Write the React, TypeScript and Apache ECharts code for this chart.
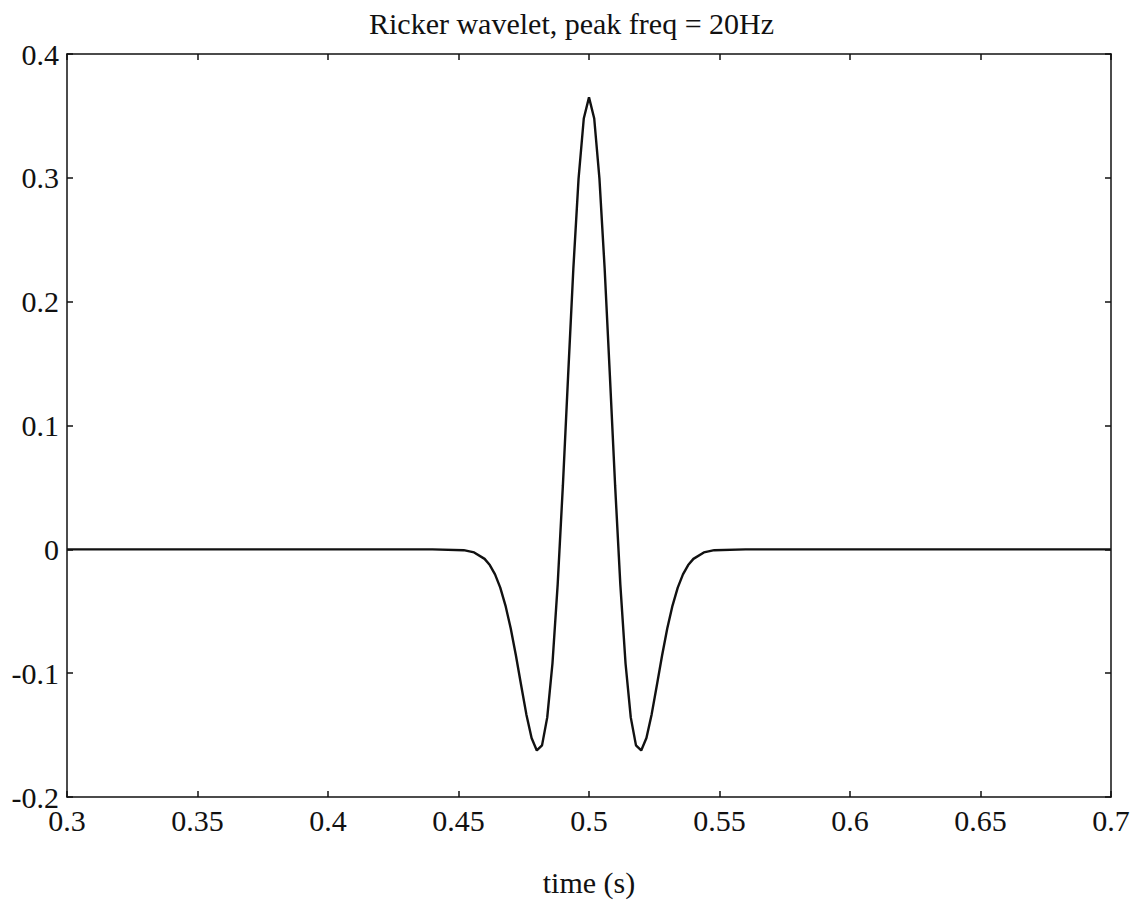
import React, { useEffect, useRef } from "react";
import * as echarts from "echarts";

const titleText = "Ricker wavelet, peak freq = 20Hz";
const xName = "time (s)";

const timeS = [
  0.3, 0.44, 0.452, 0.456,
  0.46, 0.462, 0.464, 0.466, 0.468, 0.47, 0.472, 0.474, 0.476, 0.478,
  0.48, 0.482, 0.484, 0.486, 0.488, 0.49, 0.492, 0.494, 0.496, 0.498,
  0.5, 0.502, 0.504, 0.506, 0.508, 0.51, 0.512, 0.514, 0.516, 0.518,
  0.52, 0.522, 0.524, 0.526, 0.528, 0.53, 0.532, 0.534, 0.536, 0.538,
  0.54, 0.544, 0.548, 0.56, 0.7,
];

const amplitude = [
  0, 0, -0.0007, -0.0025,
  -0.0077, -0.0127, -0.0202, -0.0309, -0.0454, -0.0638, -0.0858, -0.1098, -0.1333, -0.1524,
  -0.1624, -0.1583, -0.1357, -0.0922, -0.0283, 0.0518, 0.1403, 0.2266, 0.2994, 0.3479,
  0.365, 0.3479, 0.2994, 0.2266, 0.1403, 0.0518, -0.0283, -0.0922, -0.1357, -0.1583,
  -0.1624, -0.1524, -0.1333, -0.1098, -0.0858, -0.0638, -0.0454, -0.0309, -0.0202, -0.0127,
  -0.0077, -0.0025, -0.0007, 0, 0,
];

const FONT = "'Liberation Serif', 'Times New Roman', serif";
const INK = "#111";

export default function App() {
  const ref = useRef<HTMLDivElement>(null);
  useEffect(() => {
    if (!ref.current) return;
    const chart = echarts.init(ref.current, undefined, { renderer: "svg" });
    const fmt = (v: number) => String(+v.toFixed(2));
    const baseLine = { show: true, onZero: false, lineStyle: { color: INK, width: 1.5 } };
    const baseTick = { show: true, inside: true, length: 6, lineStyle: { color: INK, width: 1.5 } };
    chart.setOption({
      animation: false,
      backgroundColor: "#fff",
      title: {
        text: titleText,
        left: "center",
        top: 3,
        textStyle: { fontFamily: FONT, fontWeight: "normal", fontSize: 30, color: INK },
      },
      grid: { left: 67, right: 32, top: 54, bottom: 107 },
      xAxis: [
        {
          type: "value",
          min: 0.3,
          max: 0.7,
          interval: 0.05,
          position: "bottom",
          axisLine: baseLine,
          axisTick: baseTick,
          splitLine: { show: false },
          axisLabel: {
            fontFamily: FONT,
            fontSize: 30,
            lineHeight: 22,
            color: INK,
            margin: 12,
            formatter: fmt,
          },
          name: xName,
          nameLocation: "middle",
          nameGap: 70,
          nameTextStyle: { fontFamily: FONT, fontSize: 30, color: INK },
        },
        {
          type: "value",
          min: 0.3,
          max: 0.7,
          interval: 0.05,
          position: "top",
          axisLine: baseLine,
          axisTick: baseTick,
          splitLine: { show: false },
          axisLabel: { show: false },
        },
      ],
      yAxis: [
        {
          type: "value",
          min: -0.2,
          max: 0.4,
          interval: 0.1,
          position: "left",
          axisLine: baseLine,
          axisTick: baseTick,
          splitLine: { show: false },
          axisLabel: {
            fontFamily: FONT,
            fontSize: 30,
            lineHeight: 22,
            color: INK,
            margin: 8,
            formatter: fmt,
          },
        },
        {
          type: "value",
          min: -0.2,
          max: 0.4,
          interval: 0.1,
          position: "right",
          axisLine: baseLine,
          axisTick: baseTick,
          splitLine: { show: false },
          axisLabel: { show: false },
        },
      ],
      series: [
        {
          type: "line",
          data: timeS.map((t, i) => [t, amplitude[i]]),
          showSymbol: false,
          lineStyle: { color: INK, width: 2.4 },
          xAxisIndex: 0,
          yAxisIndex: 0,
        },
      ],
    });
    return () => chart.dispose();
  }, []);
  return (
    <div
      ref={ref}
      style={{ position: "absolute", left: 0, top: 0, width: 1143, height: 904 }}
    />
  );
}
